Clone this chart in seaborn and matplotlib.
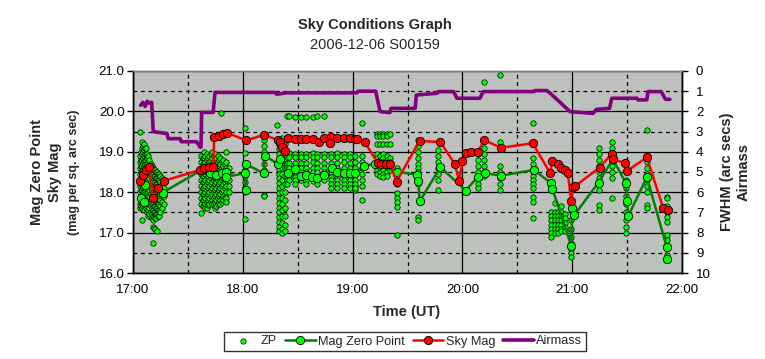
import matplotlib
matplotlib.use("Agg")
import matplotlib.pyplot as plt
import seaborn as sns
import numpy as np
from matplotlib.patches import Rectangle
from matplotlib.ticker import FixedLocator, FuncFormatter, MultipleLocator

# ---------------- data ----------------
# Mag Zero Point (fitted) : time in hours UT, magnitude
mzp_time = [17.07, 17.10, 17.11, 17.27, 17.625, 17.70, 17.76, 17.81, 17.85, 17.85,
            18.02, 18.03, 18.03, 18.19, 18.20, 18.32, 18.34, 18.415, 18.475, 18.53,
            18.58, 18.63, 18.68, 18.74, 18.81, 18.86, 18.92, 18.98, 19.02, 19.10,
            19.20, 19.40, 19.59, 19.60, 19.61, 19.80, 20.03, 20.14, 20.21, 20.35,
            20.65, 20.81, 20.82, 20.99, 21.00, 21.02, 21.24, 21.37, 21.49, 21.50,
            21.51, 21.68, 21.86, 21.86]
mzp_mag = [17.85, 17.76, 18.18, 17.99, 18.55, 18.47, 18.43, 18.47, 18.51, 18.38,
           18.47, 18.05, 18.69, 18.47, 18.90, 18.70, 18.81, 18.48, 18.57, 18.40,
           18.43, 18.38, 18.34, 18.43, 18.59, 18.49, 18.48, 18.47, 18.48, 18.65,
           18.70, 18.51, 18.43, 18.28, 17.77, 18.62, 18.04, 18.38, 18.47, 18.41,
           18.55, 18.22, 18.08, 16.68, 17.60, 17.44, 18.24, 18.82, 18.22, 17.79,
           17.41, 18.37, 16.65, 16.34]

# Sky Mag
sky_time = [17.06, 17.09, 17.12, 17.15, 17.18, 17.23, 17.28, 17.61, 17.65, 17.69,
            17.73, 17.74, 17.78, 17.82, 17.86, 18.03, 18.19, 18.32, 18.34, 18.36,
            18.38, 18.415, 18.475, 18.53, 18.58, 18.64, 18.69, 18.74, 18.80, 18.79,
            18.86, 18.92, 18.98, 19.02, 19.04, 19.11, 19.23, 19.26, 19.30, 19.34,
            19.40, 19.61, 19.80, 19.93, 19.97, 20.00, 20.03, 20.08, 20.14, 20.20,
            20.35, 20.64, 20.80, 20.82, 20.87, 20.90, 20.93, 20.96, 20.99, 21.01,
            21.03, 21.25, 21.36, 21.37, 21.48, 21.50, 21.68, 21.83, 21.87]
sky_mag = [18.28, 18.43, 18.55, 18.62, 17.85, 18.10, 18.28, 18.55, 18.60, 18.62,
           18.63, 19.37, 19.40, 19.43, 19.47, 19.28, 19.42, 19.29, 19.25, 19.13,
           19.03, 19.33, 19.32, 19.31, 19.31, 19.31, 19.25, 19.34, 19.36, 19.23,
           19.33, 19.33, 19.33, 19.31, 19.31, 19.24, 18.72, 18.70, 18.71, 18.70,
           18.26, 19.27, 19.24, 18.70, 18.28, 18.76, 18.98, 19.00, 19.00, 19.29,
           19.10, 19.21, 18.47, 18.76, 18.71, 18.59, 18.55, 18.48, 17.79, 18.14,
           18.16, 18.61, 18.95, 18.82, 18.72, 18.53, 18.86, 17.60, 17.56]

# Airmass (right axis)
air_time = [17.07, 17.09, 17.11, 17.13, 17.15, 17.17, 17.185, 17.31, 17.32, 17.43,
            17.44, 17.58, 17.61, 17.62, 17.625, 17.73, 17.747, 18.29, 18.31, 18.40,
            19.04, 19.05, 19.21, 19.25, 19.34, 19.35, 19.57, 19.58, 19.77, 19.78,
            19.92, 19.95, 20.16, 20.19, 20.65, 20.66, 20.77, 20.80, 20.98, 21.19,
            21.22, 21.34, 21.36, 21.59, 21.60, 21.68, 21.69, 21.81, 21.85, 21.89]
air_mass = [1.70, 1.55, 1.75, 1.50, 1.60, 1.55, 3.00, 3.10, 3.35, 3.35,
            3.50, 3.50, 3.77, 3.77, 2.05, 2.05, 1.06, 1.06, 1.15, 1.08,
            1.08, 1.00, 1.00, 2.01, 2.06, 1.85, 1.85, 1.19, 1.10, 1.02,
            1.02, 1.35, 1.35, 1.02, 1.02, 0.97, 0.97, 1.10, 2.01, 2.10,
            1.90, 1.85, 1.35, 1.35, 1.43, 1.43, 1.02, 1.02, 1.40, 1.40]

# ZP individual measurements: one time per column, list of magnitudes per column
zp_col_time = [17.06, 17.07, 17.08, 17.09, 17.10, 17.11, 17.12, 17.13, 17.14, 17.15,
               17.16, 17.17, 17.18, 17.19, 17.20, 17.21, 17.22, 17.23, 17.24, 17.25,
               17.26, 17.28,
               17.62, 17.635, 17.645, 17.66, 17.67, 17.685, 17.695, 17.71, 17.72,
               17.735, 17.745, 17.76, 17.77, 17.785, 17.795, 17.81, 17.82, 17.835,
               17.845, 17.87, 17.80,
               18.02, 18.19, 18.31, 18.33, 18.355, 18.38,
               18.40, 18.42, 18.475, 18.53, 18.58, 18.64, 18.68, 18.74, 18.80, 18.86,
               18.92, 18.98, 19.02,
               19.09, 19.22, 19.25, 19.28, 19.31, 19.34, 19.40, 19.60, 19.78,
               20.14, 20.20, 20.34,
               20.64, 20.81, 20.84, 20.87, 20.90, 20.93, 20.99,
               21.24, 21.36, 21.49, 21.68, 21.86]
zp_col_mags = [
    [19.5, 18.9, 18.75, 18.6, 18.45, 18.3, 18.15, 18.0, 17.85, 17.7, 17.6],
    [19.0, 18.8, 18.65, 18.5, 18.35, 18.2, 18.05, 17.9, 17.75, 17.65],
    [19.25, 19.1, 18.95, 18.8, 18.65, 18.5, 18.35, 18.2, 18.05, 17.9, 17.75, 17.6, 17.3],
    [19.15, 19.0, 18.85, 18.7, 18.55, 18.4, 18.25, 18.1, 17.95, 17.8, 17.65],
    [19.2, 19.05, 18.9, 18.75, 18.6, 18.45, 18.3, 18.15, 18.0, 17.85, 17.7, 17.55],
    [19.1, 18.95, 18.8, 18.7, 18.55, 18.4, 18.25, 18.1, 17.95, 17.8, 17.65],
    [19.1, 18.95, 18.8, 18.65, 18.5, 18.35, 18.2, 18.05, 17.9, 17.75, 17.6],
    [18.95, 18.85, 18.7, 18.55, 18.4, 18.25, 18.1, 17.95, 17.8, 17.65, 17.5],
    [18.9, 18.75, 18.6, 18.45, 18.3, 18.15, 18.0, 17.85, 17.7, 17.55, 17.4],
    [18.8, 18.65, 18.5, 18.35, 18.2, 18.05, 17.9, 17.75, 17.6, 17.45],
    [18.7, 18.55, 18.4, 18.25, 18.1, 17.95, 17.8, 17.65, 17.5, 17.38],
    [18.65, 18.5, 18.35, 18.2, 18.05, 17.9, 17.75, 17.6, 17.45, 17.35],
    [18.6, 18.45, 18.3, 18.15, 18.0, 17.85, 17.7, 17.55, 17.4, 17.3, 17.15, 16.75],
    [18.55, 18.4, 18.25, 18.1, 17.95, 17.8, 17.65, 17.5, 17.38, 17.12],
    [18.55, 18.4, 18.25, 18.1, 17.95, 17.8, 17.65, 17.5, 17.35, 17.1],
    [18.5, 18.35, 18.2, 18.05, 17.9, 17.75, 17.6, 17.45, 17.35],
    [18.5, 18.35, 18.2, 18.05, 17.9, 17.75, 17.6, 17.45, 17.05],
    [18.45, 18.3, 18.15, 18.0, 17.85, 17.7, 17.55, 17.42],
    [18.45, 18.3, 18.15, 18.0, 17.85, 17.7, 17.55, 17.4],
    [18.4, 18.25, 18.1, 17.95, 17.8, 17.65, 17.5],
    [18.35, 18.2, 18.05, 17.9, 17.75, 17.6],
    [18.3, 18.1, 17.9, 17.7],
    [18.9, 18.75, 18.6, 18.45, 18.3, 18.15, 18.0, 17.85, 17.7, 17.48],
    [18.85, 18.7, 18.55, 18.4, 18.25, 18.1, 17.95, 17.8, 17.65],
    [19.0, 18.85, 18.7, 18.55, 18.4, 18.25, 18.1, 17.95, 17.8, 17.65],
    [18.9, 18.75, 18.6, 18.45, 18.3, 18.15, 18.0, 17.85, 17.7, 17.6],
    [18.95, 18.8, 18.65, 18.5, 18.35, 18.2, 18.05, 17.9, 17.75, 17.6],
    [18.85, 18.7, 18.55, 18.4, 18.25, 18.1, 17.95, 17.8, 17.68],
    [18.9, 18.75, 18.6, 18.45, 18.3, 18.15, 18.0, 17.85, 17.7],
    [18.95, 18.8, 18.65, 18.5, 18.35, 18.2, 18.05, 17.9, 17.75],
    [19.0, 18.85, 18.7, 18.55, 18.4, 18.25, 18.1, 17.95, 17.8, 17.7],
    [18.9, 18.75, 18.6, 18.45, 18.3, 18.15, 18.0, 17.85, 17.7],
    [18.95, 18.8, 18.65, 18.5, 18.35, 18.2, 18.05, 17.9, 17.75, 17.6],
    [18.85, 18.7, 18.55, 18.4, 18.25, 18.1, 17.95, 17.8, 17.65],
    [18.9, 18.75, 18.6, 18.45, 18.3, 18.15, 18.0, 17.85, 17.7],
    [18.8, 18.65, 18.5, 18.35, 18.2, 18.05, 17.9, 17.75],
    [18.85, 18.7, 18.55, 18.4, 18.25, 18.1, 17.95, 17.8, 17.7],
    [18.75, 18.6, 18.45, 18.3, 18.15, 18.0, 17.85, 17.75],
    [18.8, 18.65, 18.5, 18.35, 18.2, 18.05, 17.9, 17.8],
    [18.7, 18.55, 18.4, 18.25, 18.1, 17.95, 17.85],
    [19.0, 18.75, 18.6, 18.45, 18.3, 18.15, 18.0, 17.85, 17.75],
    [18.6, 18.45, 18.3, 18.15, 18.0],
    [19.96],
    [19.6, 18.96, 18.7, 18.55, 18.4, 18.25, 18.1, 18.0, 17.33],
    [19.3, 19.15, 19.0, 18.85, 18.7, 18.55, 18.45, 17.93, 17.9],
    [19.66],
    [19.3, 19.18, 19.06, 18.94, 18.82, 18.7, 18.58, 18.46, 18.34, 18.22, 18.1, 17.98,
     17.86, 17.74, 17.62, 17.5, 17.38, 17.26, 17.14, 17.05],
    [19.35, 19.2, 19.05, 18.9, 18.75, 18.6, 18.45, 18.3, 18.15, 18.0, 17.85, 17.7,
     17.55, 17.4, 17.25, 17.1, 17.0],
    [19.2, 19.0, 18.8, 18.6, 18.4, 18.2, 18.0, 17.8, 17.6, 17.4, 17.2, 17.05],
    [19.88, 18.95, 18.87, 18.73, 18.6, 18.5, 18.38, 18.3, 18.2],
    [19.88, 18.96, 18.87, 18.72, 18.6, 18.5, 18.4, 18.3],
    [19.87, 18.95, 18.87, 18.73, 18.6, 18.5, 18.38, 18.3, 18.2],
    [19.87, 18.95, 18.88, 18.73, 18.6, 18.5, 18.38, 18.3],
    [19.86, 18.95, 18.87, 18.73, 18.6, 18.5, 18.38, 18.3, 18.2],
    [19.87, 18.96, 18.87, 18.74, 18.6, 18.5, 18.38, 18.28],
    [19.88, 18.95, 18.87, 18.73, 18.6, 18.5, 18.38, 18.3, 18.2],
    [19.89, 18.95, 18.88, 18.72, 18.6, 18.5, 18.4, 18.3],
    [18.95, 18.87, 18.73, 18.6, 18.5, 18.38, 18.3, 18.2, 18.1],
    [18.96, 18.87, 18.73, 18.6, 18.5, 18.38, 18.3, 18.2, 18.1],
    [18.95, 18.88, 18.74, 18.6, 18.5, 18.4, 18.3, 18.2, 18.1],
    [18.95, 18.87, 18.73, 18.6, 18.5, 18.38, 18.3, 18.2, 18.1],
    [18.9, 18.75, 18.6, 18.45, 18.3, 18.15, 18.05, 18.2, 18.1],
    [19.72, 18.9, 18.75, 18.6, 18.45, 18.3, 18.15, 17.81],
    [19.45, 19.38, 19.2, 18.95, 18.85, 18.75, 18.65, 18.55, 18.45],
    [19.45, 19.38, 19.2, 18.9, 18.8, 18.7, 18.6, 18.5, 18.4],
    [19.45, 19.38, 19.2, 18.95, 18.85, 18.75, 18.65, 18.55, 18.45, 18.38],
    [19.45, 19.38, 19.2, 18.9, 18.8, 18.7, 18.6, 18.5, 18.4],
    [19.45, 19.2, 18.85, 18.75, 18.65, 18.55],
    [18.6, 18.45, 18.2, 17.98, 17.85, 17.75, 17.64, 16.94],
    [19.3, 19.15, 19.0, 18.85, 18.7, 18.6, 18.5, 18.4, 18.3, 18.2, 17.38, 17.31],
    [19.05, 18.9, 18.75, 18.6, 18.45, 18.3, 18.05],
    [18.95, 18.8, 18.65, 18.5, 18.35, 18.2, 18.1],
    [20.74, 19.1, 18.95, 18.8, 18.65, 18.5, 18.4],
    [20.90, 19.25, 18.65, 18.5, 18.35, 18.2, 18.05],
    [19.71, 18.85, 18.7, 18.55, 18.4, 18.3, 18.2, 18.1, 17.89, 17.76, 17.36],
    [17.5, 17.4, 17.3, 17.2, 17.1, 17.0, 16.9],
    [17.73, 17.5, 17.4, 17.3, 17.2, 17.1, 17.0],
    [17.5, 17.4, 17.3, 17.2, 17.1, 17.0],
    [17.65, 17.5, 17.4, 17.3, 17.2, 17.1, 17.05],
    [17.45, 17.35, 17.25, 17.15, 17.05],
    [17.3, 17.1, 16.9, 16.75, 16.6, 16.5, 16.4],
    [19.1, 18.95, 18.8, 18.65, 18.5, 18.35, 18.2, 18.05, 17.68, 17.56],
    [19.25, 19.1, 18.95, 18.8, 18.65, 18.5, 18.35, 17.86],
    [18.7, 18.5, 18.3, 18.1, 17.9, 17.7, 17.5, 17.3, 17.14, 16.98],
    [19.55, 18.9, 18.75, 18.6, 18.45, 18.3, 18.15, 18.0, 17.68, 17.6],
    [17.89, 17.86, 17.67, 17.52, 17.39, 17.27, 16.94, 16.82, 16.45],
]

hour_ticks = [17, 18, 19, 20, 21, 22]
hour_labels = ["17:00", "18:00", "19:00", "20:00", "21:00", "22:00"]

zp_time = [t for t, col in zip(zp_col_time, zp_col_mags) for _ in col]
zp_mag = [m for col in zp_col_mags for m in col]

# ---------------- style ----------------
sns.set_theme(style="white")
plt.rcParams["font.family"] = ["Liberation Sans", "DejaVu Sans"]
plt.rcParams["hatch.linewidth"] = 0.6

W, H = 765, 359
fig = plt.figure(figsize=(W / 100, H / 100), dpi=100)
fig.patch.set_facecolor("white")
ax = fig.add_axes([133 / W, 1 - 273 / H, 549 / W, 202 / H])
ax.set_facecolor("#C0C0C0")
ax.add_patch(Rectangle((0, 0), 1, 1, transform=ax.transAxes, facecolor="#C0C0C0",
                       edgecolor="#a8c8a8", hatch="....", lw=0, zorder=0.1))

# grid
ax.set_xlim(17, 22)
ax.set_ylim(16, 21)
ax.xaxis.set_major_locator(FixedLocator(hour_ticks))
ax.xaxis.set_minor_locator(MultipleLocator(0.5))
ax.yaxis.set_major_locator(MultipleLocator(1.0))
ax.yaxis.set_minor_locator(MultipleLocator(0.5))
ax.grid(which="major", color="black", lw=0.9, ls="-", zorder=0.5)
ax.grid(which="minor", color="black", lw=0.9, ls=(0, (3, 3)), zorder=0.5)
ax.set_axisbelow(True)

# data
sns.scatterplot(x=zp_time, y=zp_mag, ax=ax, s=15, color="#00FF00", edgecolor="black",
                linewidth=0.5, label="ZP", zorder=3)
sns.lineplot(x=mzp_time, y=mzp_mag, ax=ax, color="#008000", lw=1.8, marker="o",
             markersize=6, markerfacecolor="#00FF00", markeredgecolor="black",
             markeredgewidth=0.6, estimator=None, sort=False, label="Mag Zero Point",
             zorder=4)
sns.lineplot(x=sky_time, y=sky_mag, ax=ax, color="#FF0000", lw=1.8, marker="o",
             markersize=6, markerfacecolor="#FF0000", markeredgecolor="black",
             markeredgewidth=0.6, estimator=None, sort=False, label="Sky Mag",
             zorder=5)

ax2 = ax.twinx()
sns.lineplot(x=air_time, y=air_mass, ax=ax2, color="#800080", lw=2.6,
             estimator=None, sort=False, label="Airmass", zorder=6)
ax2.set_ylim(10, 0)
ax2.set_yticks(range(0, 11))
ax2.set_xlim(17, 22)

# axes appearance
ax.xaxis.set_major_formatter(FuncFormatter(lambda v, p: hour_labels[hour_ticks.index(int(round(v)))]))
ax.yaxis.set_major_formatter(FuncFormatter(lambda v, p: f"{v:.1f}"))
ax.tick_params(axis="both", which="major", direction="out", length=4, width=1,
               color="black", labelsize=9.5, labelcolor="black", pad=2)
ax.tick_params(axis="both", which="minor", length=0)
ax.tick_params(axis="x", pad=4)
ax2.tick_params(axis="y", direction="out", length=4, width=1, color="black",
                labelsize=9.5, labelcolor="black", pad=6)
for a in (ax, ax2):
    for s in ("left", "bottom", "right"):
        a.spines[s].set_color("black")
        a.spines[s].set_linewidth(1)
    a.spines["top"].set_color("#808080")
    a.spines["top"].set_linewidth(1)
ax.set_xlabel("")
ax.set_ylabel("")
ax2.set_ylabel("")

# labels
fig.text(0.49, 1 - 25 / H, "Sky Conditions Graph", ha="center", va="center",
         fontsize=10.5, fontweight="bold")
fig.text(0.49, 1 - 45 / H, "2006-12-06 S00159", ha="center", va="center", fontsize=10.5)
fig.text(407 / W, 1 - 312 / H, "Time (UT)", ha="center", va="center",
         fontsize=10.5, fontweight="bold")
ymid = 1 - 172 / H
fig.text(37 / W, ymid, "Mag Zero Point", rotation=90, ha="center", va="center",
         fontsize=10.5, fontweight="bold")
fig.text(55 / W, ymid, "Sky Mag", rotation=90, ha="center", va="center",
         fontsize=10.5, fontweight="bold")
fig.text(74 / W, ymid, "(mag per sq. arc sec)", rotation=90, ha="center", va="center",
         fontsize=9, fontweight="bold")
fig.text(727 / W, ymid, "FWHM (arc secs)", rotation=90, ha="center", va="center",
         fontsize=10.5, fontweight="bold")
fig.text(744 / W, ymid, "Airmass", rotation=90, ha="center", va="center",
         fontsize=10.5, fontweight="bold")

# legend
h1, l1 = ax.get_legend_handles_labels()
h2, l2 = ax2.get_legend_handles_labels()
for a in (ax, ax2):
    if a.get_legend() is not None:
        a.get_legend().remove()
leg = fig.legend(h1 + h2, l1 + l2, loc="center", bbox_to_anchor=(405 / W, 1 - 341.5 / H),
                 ncol=4, frameon=True, fancybox=False, fontsize=9.2, handlelength=2.4,
                 handletextpad=0.2, columnspacing=0.6, borderpad=0.3,
                 borderaxespad=0, markerscale=1.0)
leg.get_frame().set_edgecolor("black")
leg.get_frame().set_linewidth(1)

fig.savefig("out.png", dpi=100, facecolor="white")
